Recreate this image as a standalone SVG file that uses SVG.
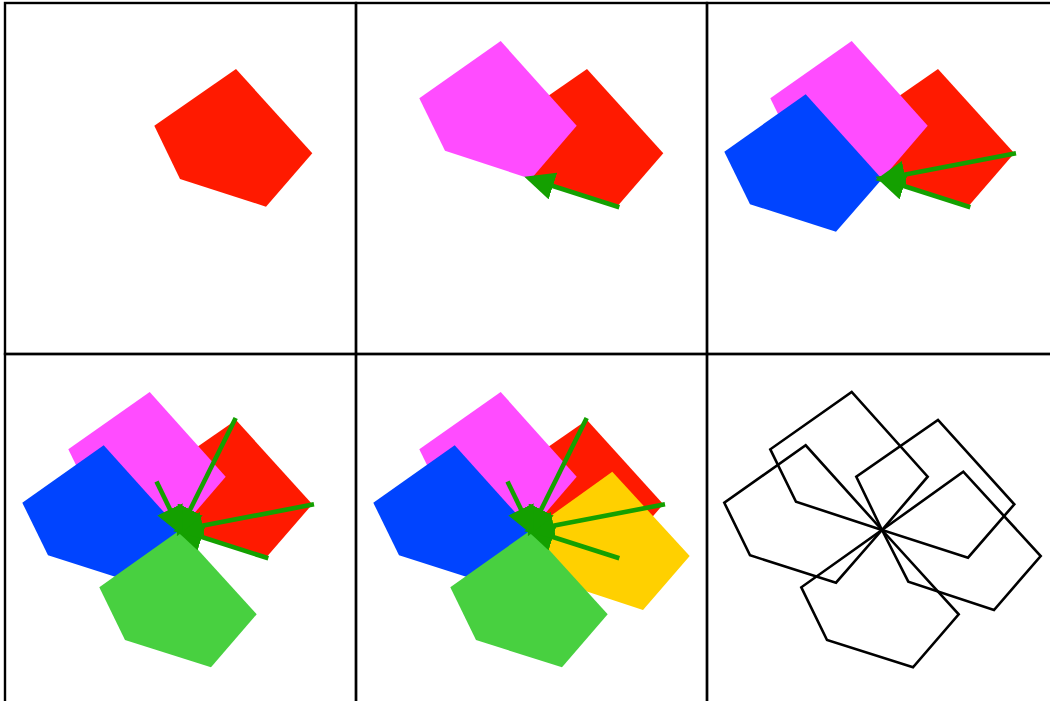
<svg xmlns="http://www.w3.org/2000/svg" xmlns:xlink="http://www.w3.org/1999/xlink" width="1050" height="701" viewBox="0 0 1050 701">
<style>
.frame{fill:none;stroke:#000;stroke-width:2.4}
.arr{stroke:#14a000;stroke-width:4.6;fill:none;marker-end:url(#ah)}
.out{fill:none;stroke:#000;stroke-width:2.6;stroke-linejoin:miter}
</style>
<defs>
<marker id="ah" markerUnits="userSpaceOnUse" viewBox="0 0 30 28" markerWidth="30" markerHeight="28" refX="23" refY="14" orient="auto">
<path d="M0,0 L30,14 L0,28 Z" fill="#14a000"/>
</marker>
<polygon id="red" points="180,179 154.3,125.7 236,69 312.3,153.3 266,206.7"/>
<polygon id="mag" points="180,179 94,150.7 68.3,98.3 149.7,41 225.7,125.7"/>
<polygon id="blue" points="180,179 134,231.7 48,204.3 22.3,151.7 103.7,94.3"/>
<polygon id="grn" points="180,179 256.7,263.3 211,316.3 125,289 99.3,236.3"/>
<polygon id="yel" points="180,179 261.3,120.7 338.7,205 292,259 206.3,230.7"/>
<line id="aB" x1="268.3" y1="207.3" x2="180" y2="179"/>
<line id="aR" x1="314" y1="153.3" x2="180" y2="179"/>
<line id="aT" x1="235.7" y1="67" x2="180" y2="179"/>
<line id="aL" x1="156.5" y1="130.5" x2="180" y2="179"/>
</defs>
<rect x="0" y="0" width="1050" height="701" fill="#fff"/>
<g id="frames">
<rect class="frame" x="5" y="3" width="351" height="351"/>
<rect class="frame" x="356" y="3" width="351" height="351"/>
<rect class="frame" x="707" y="3" width="351" height="351"/>
<rect class="frame" x="5" y="354" width="351" height="351"/>
<rect class="frame" x="356" y="354" width="351" height="351"/>
<rect class="frame" x="707" y="354" width="351" height="351"/>
</g>
<g id="panel1">
<use xlink:href="#red" fill="#ff1a00"/>
</g>
<g id="panel2" transform="translate(351,0)">
<use xlink:href="#red" fill="#ff1a00"/>
<use xlink:href="#mag" fill="#ff4cff"/>
<g class="connectors"><use xlink:href="#aB" class="arr"/></g>
</g>
<g id="panel3" transform="translate(702,0)">
<use xlink:href="#red" fill="#ff1a00"/>
<use xlink:href="#mag" fill="#ff4cff"/>
<use xlink:href="#blue" fill="#0044ff"/>
<g class="connectors"><use xlink:href="#aB" class="arr"/><use xlink:href="#aR" class="arr"/></g>
</g>
<g id="panel4" transform="translate(0,351)">
<use xlink:href="#red" fill="#ff1a00"/>
<use xlink:href="#mag" fill="#ff4cff"/>
<use xlink:href="#blue" fill="#0044ff"/>
<use xlink:href="#grn" fill="#48d040"/>
<g class="connectors"><use xlink:href="#aB" class="arr"/><use xlink:href="#aR" class="arr"/><use xlink:href="#aT" class="arr"/><use xlink:href="#aL" class="arr"/></g>
</g>
<g id="panel5" transform="translate(351,351)">
<use xlink:href="#red" fill="#ff1a00"/>
<use xlink:href="#mag" fill="#ff4cff"/>
<use xlink:href="#blue" fill="#0044ff"/>
<use xlink:href="#yel" fill="#ffd000"/>
<use xlink:href="#grn" fill="#48d040"/>
<g class="connectors"><use xlink:href="#aB" class="arr"/><use xlink:href="#aR" class="arr"/><use xlink:href="#aT" class="arr"/><use xlink:href="#aL" class="arr"/></g>
</g>
<g id="panel6" transform="translate(702,351)">
<use xlink:href="#red" class="out"/>
<use xlink:href="#mag" class="out"/>
<use xlink:href="#blue" class="out"/>
<use xlink:href="#grn" class="out"/>
<use xlink:href="#yel" class="out"/>
</g>
</svg>
